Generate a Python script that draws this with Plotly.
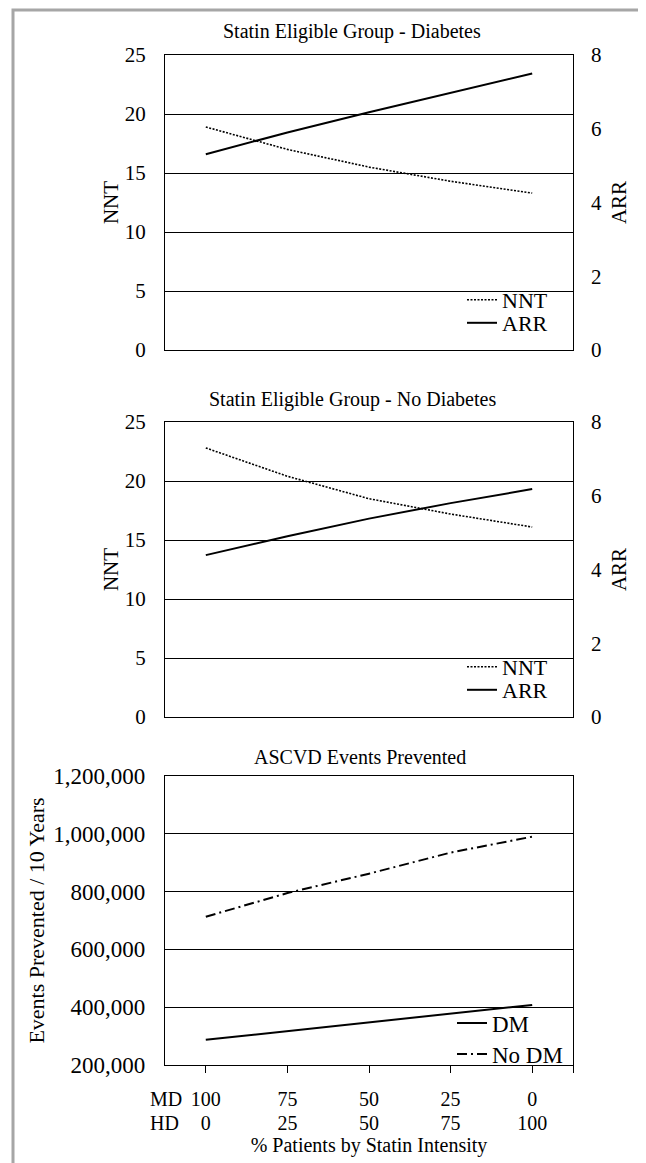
import plotly.graph_objects as go

# ---- data ----
md_pct = ["100", "75", "50", "25", "0"]
hd_pct = ["0", "25", "50", "75", "100"]
x_pos = [0, 1, 2, 3, 4]

nnt_dm = [18.9, 17.0, 15.5, 14.3, 13.3]
arr_dm = [5.31, 5.90, 6.45, 6.98, 7.50]

nnt_nodm = [22.8, 20.4, 18.5, 17.2, 16.1]
arr_nodm = [4.39, 4.90, 5.38, 5.80, 6.18]

events_dm = [287000, 317000, 347000, 378000, 408000]
events_nodm = [713000, 795000, 862000, 935000, 990000]

titles = ["Statin Eligible Group - Diabetes",
          "Statin Eligible Group - No Diabetes",
          "ASCVD Events Prevented"]

FONT = "Liberation Serif"


def f(size):
    return dict(family=FONT, size=size, color="black")


# page body has an 8px margin; work in reference-pixel coordinates
OFF = 8
W, H = 646 - OFF, 1163 - OFF
PL, PR, PT, PB = 165, 573, 55, 1065          # plot area in reference pixels


def px(p):
    return (p - PL) / (PR - PL)


def py(p):
    return (PB - p) / (PB - PT)


fig = go.Figure()

nnt_line = dict(color="black", width=1.6, dash="2px,1.5px")
arr_line = dict(color="black", width=2)

# panel 1
fig.add_trace(go.Scatter(x=x_pos, y=nnt_dm, mode="lines", name="NNT", line=nnt_line,
                         xaxis="x", yaxis="y", legend="legend"))
fig.add_trace(go.Scatter(x=x_pos, y=arr_dm, mode="lines", name="ARR", line=arr_line,
                         xaxis="x", yaxis="y2", legend="legend4"))
# panel 2
fig.add_trace(go.Scatter(x=x_pos, y=nnt_nodm, mode="lines", name="NNT", line=nnt_line,
                         xaxis="x2", yaxis="y3", legend="legend2"))
fig.add_trace(go.Scatter(x=x_pos, y=arr_nodm, mode="lines", name="ARR", line=arr_line,
                         xaxis="x2", yaxis="y4", legend="legend5"))
# panel 3
fig.add_trace(go.Scatter(x=x_pos, y=events_dm, mode="lines", name="DM",
                         line=dict(color="black", width=2),
                         xaxis="x3", yaxis="y5", legend="legend3"))
fig.add_trace(go.Scatter(x=x_pos, y=events_nodm, mode="lines", name="No DM",
                         line=dict(color="black", width=2, dash="10px,4px,2px,4px"),
                         xaxis="x3", yaxis="y5", legend="legend6"))
# carrier for the second (HD) row of category labels
fig.add_trace(go.Scatter(x=x_pos, y=events_dm, mode="lines", opacity=0, showlegend=False,
                         hoverinfo="skip", xaxis="x4", yaxis="y5"))

xr = [-0.5, 4.5]
d1 = [py(350), 1.0]
d2 = [py(717), py(422)]
d3 = [0.0, py(776)]

plain_x = dict(range=xr, showgrid=False, zeroline=False, showline=True, linecolor="black",
               linewidth=1.3, mirror=True, showticklabels=False, ticks="")


def left_y(domain, rng, dtick, title, tsize, standoff, ticksize, fmt=None):
    d = dict(domain=domain, range=rng, dtick=dtick, tick0=rng[0], showgrid=True, gridcolor="black",
             gridwidth=1, zeroline=False, showline=True, linecolor="black", linewidth=1.3,
             mirror=True, ticks="", tickfont=f(ticksize), ticklabelstandoff=14,
             title=dict(text=title, font=f(tsize), standoff=standoff))
    if fmt:
        d["tickformat"] = fmt
    return d


def right_y(over, rng, title):
    return dict(overlaying=over, side="right", range=rng, dtick=2, tick0=0, showgrid=False,
                zeroline=False, showline=False, ticks="", tickfont=f(21), ticklabelstandoff=17,
                title=dict(text=title, font=f(21), standoff=10))


def leg(x, y, size):
    return dict(x=px(x), xanchor="left", y=py(y), yanchor="middle", bgcolor="rgba(0,0,0,0)",
                font=f(size), itemwidth=30, tracegroupgap=0)


fig.update_layout(
    width=W, height=H,
    margin=dict(l=PL - OFF, r=W - (PR - OFF), t=PT - OFF, b=H - (PB - OFF)),
    paper_bgcolor="white", plot_bgcolor="white",
    font=dict(family=FONT, color="black"),
    xaxis=dict(plain_x, anchor="y"),
    yaxis=left_y(d1, [0, 25], 5, "NNT", 21, 0, 21),
    yaxis2=right_y("y", [0, 8], "ARR"),
    xaxis2=dict(plain_x, anchor="y3"),
    yaxis3=left_y(d2, [0, 25], 5, "NNT", 21, 0, 21),
    yaxis4=right_y("y3", [0, 8], "ARR"),
    xaxis3=dict(range=xr, anchor="y5", showgrid=False, zeroline=False, showline=True,
                linecolor="black", linewidth=1.3, mirror=True,
                tickvals=x_pos + [4.5], ticktext=md_pct + [""], ticks="outside",
                ticklen=7, tickcolor="black", tickwidth=1.3, tickfont=f(20),
                ticklabelstandoff=9),
    xaxis4=dict(range=xr, overlaying="x3", anchor="y5", side="bottom", showgrid=False,
                zeroline=False, showline=False, tickvals=x_pos, ticktext=hd_pct, ticks="",
                tickfont=f(20), ticklabelstandoff=44,
                title=dict(text="% Patients by Statin Intensity", font=f(20), standoff=0)),
    yaxis5=left_y(d3, [200000, 1200000], 200000, "Events Prevented / 10 Years", 22, 2, 23, fmt=","),
    legend=leg(462, 300, 22),
    legend4=leg(462, 323, 22),
    legend2=leg(462, 667, 22),
    legend5=leg(462, 690, 22),
    legend3=leg(452, 1023, 23),
    legend6=leg(452, 1054, 23),
    showlegend=True,
)

# panel titles
for t, cx, cy in zip(titles, [352, 352, 360], [32, 400, 757]):
    fig.add_annotation(text=t, xref="paper", yref="paper", x=px(cx), y=py(cy),
                       xanchor="center", yanchor="middle", showarrow=False, font=f(20))

# row labels for the category axis
for t, cy in zip(["MD", "HD"], [1099, 1123]):
    fig.add_annotation(text=t, xref="paper", yref="paper", x=px(148), y=py(cy),
                       xanchor="left", yanchor="middle", showarrow=False, font=f(20))

# outer gray frame
fig.add_shape(type="rect", xref="paper", yref="paper", x0=px(13), x1=px(640), y0=py(1180), y1=py(10),
              line=dict(color="#a6a6a6", width=3), layer="below")

fig.write_html("out.html")
